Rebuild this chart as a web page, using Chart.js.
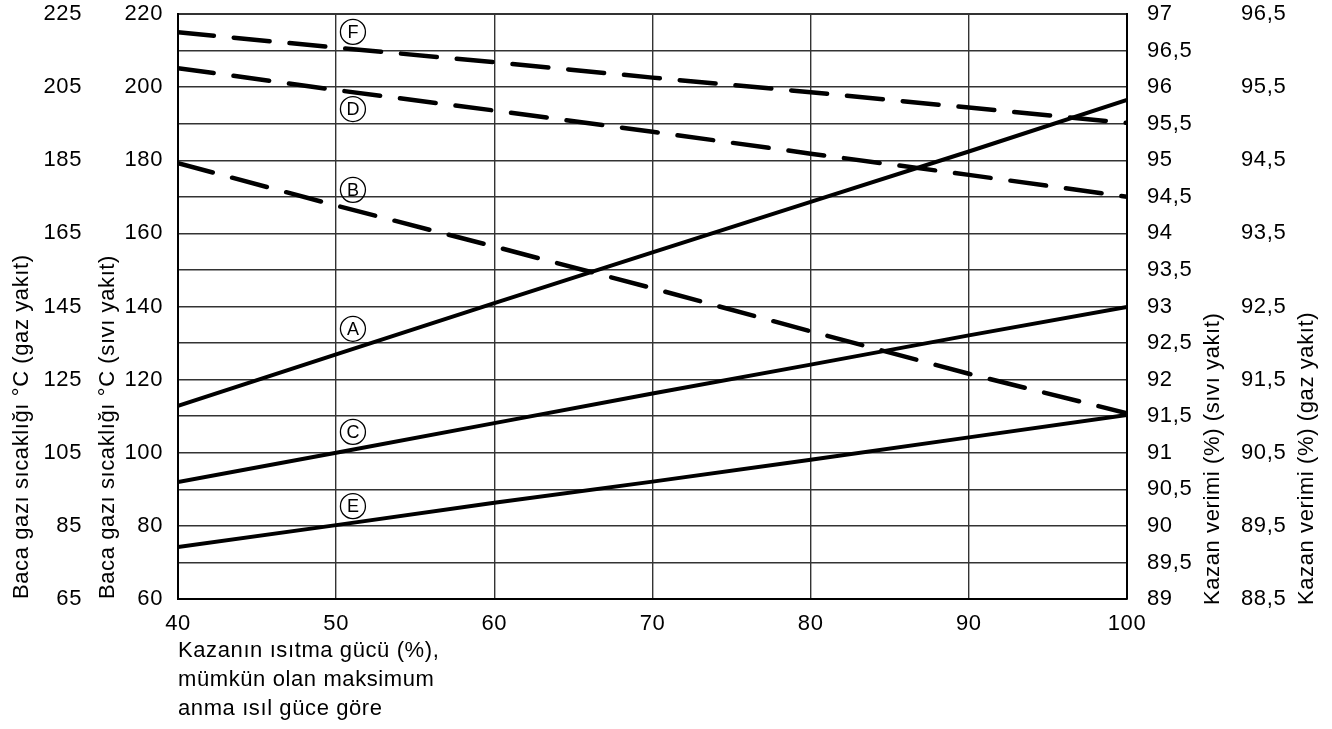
<!DOCTYPE html>
<html>
<head>
<meta charset="utf-8">
<script src="https://cdn.jsdelivr.net/npm/chart.js@4"></script>
<style>
  html, body { margin: 0; padding: 0; background: #fff; }
  canvas { display: block; }
</style>
</head>
<body>
<canvas id="c" width="1332" height="729"></canvas>
<script>
// ---- data ----
const loadPct = [40, 50, 60, 70, 80, 90, 100];               // Kazanın ısıtma gücü (%)
const flueA = [112.8, 126.9, 140.9, 154.8, 168.6, 182.4, 196.5]; // °C (sıvı yakıt scale)
const flueC = [92.0, 100.0, 108.1, 116.2, 124.1, 132.1, 139.9];
const flueE = [74.2, 80.2, 86.3, 92.1, 98.1, 104.2, 110.3];
const effB = [94.96, 94.38, 93.82, 93.25, 92.66, 92.08, 91.54];  // % (sıvı yakıt scale)
const effD = [96.26, 95.96, 95.68, 95.39, 95.09, 94.80, 94.50];
const effF = [96.75, 96.54, 96.34, 96.13, 95.93, 95.72, 95.51];

const curveNames = ['F', 'D', 'B', 'A', 'C', 'E'];
const curveNameLoad = [51.06, 51.06, 51.06, 51.06, 51.06, 51.06];
const curveNameTemp = [215.1, 194.0, 171.9, 133.9, 105.7, 85.4];

const xTitle = ['Kazanın ısıtma gücü (%),', 'mümkün olan maksimum', 'anma ısıl güce göre'];
const yGasTitle = 'Baca gazı sıcaklığı °C (gaz yakıt)';
const yOilTitle = 'Baca gazı sıcaklığı °C (sıvı yakıt)';
const yEffOilTitle = 'Kazan verimi (%) (sıvı yakıt)';
const yEffGasTitle = 'Kazan verimi (%) (gaz yakıt)';

// ---- styling ----
const FONT = 'Liberation Sans, Arial, Helvetica, sans-serif';
const tickFont = { family: FONT, size: 22, lineHeight: 1.2 };
const INK = '#000';
const GRID = '#333';

const pts = (ys) => loadPct.map((x, i) => ({ x, y: ys[i] }));
const comma = (v) => String(v).replace('.', ',');

function solid(data) {
  return { data: pts(data), yAxisID: 'yOil', borderColor: INK, borderWidth: 4,
           pointRadius: 0, tension: 0, fill: false, borderCapStyle: 'butt' };
}
function dashed(data) {
  return { data: pts(data), yAxisID: 'yEffOil', borderColor: INK, borderWidth: 4.5,
           pointRadius: 0, tension: 0, fill: false, borderDash: [36, 20],
           borderCapStyle: 'round' };
}

const fixWidth = (w) => (scale) => { scale.width = w; scale.paddingTop = 0; scale.paddingBottom = 0; };

const spacingPlugin = {
  id: 'spacing',
  beforeUpdate(chart) { chart.ctx.letterSpacing = '0.6px'; },
  beforeDraw(chart) { chart.ctx.letterSpacing = '0.6px'; }
};

const extrasPlugin = {
  id: 'extras',
  afterDraw(chart) {
    const ctx = chart.ctx;
    const xs = chart.scales.x, yt = chart.scales.yOil;
    // circled curve names
    ctx.save();
    ctx.letterSpacing = '0px';
    ctx.strokeStyle = INK;
    ctx.fillStyle = INK;
    ctx.lineWidth = 1.3;
    ctx.font = '18px ' + FONT;
    ctx.textAlign = 'center';
    ctx.textBaseline = 'middle';
    curveNames.forEach((n, i) => {
      const px = xs.getPixelForValue(curveNameLoad[i]);
      const py = yt.getPixelForValue(curveNameTemp[i]);
      ctx.beginPath();
      ctx.arc(px, py, 12.5, 0, Math.PI * 2);
      ctx.stroke();
      ctx.fillText(n, px, py + 1);
    });
    ctx.restore();
    // right-hand axis titles, reading bottom to top
    ctx.save();
    ctx.letterSpacing = '0.6px';
    ctx.fillStyle = INK;
    ctx.font = '22px ' + FONT;
    ctx.textAlign = 'left';
    ctx.textBaseline = 'middle';
    const drawTitle = (scale, text, off) => {
      ctx.save();
      ctx.translate(scale.right - off, chart.chartArea.bottom + 6);
      ctx.rotate(-Math.PI / 2);
      ctx.fillText(text, 0, 0);
      ctx.restore();
    };
    drawTitle(chart.scales.yEffOil, yEffOilTitle, 18);
    drawTitle(chart.scales.yEffGas, yEffGasTitle, 25.5);
    ctx.restore();
  }
};

new Chart(document.getElementById('c'), {
  type: 'line',
  data: {
    datasets: [
      dashed(effF), dashed(effD), dashed(effB),
      solid(flueA), solid(flueC), solid(flueE)
    ]
  },
  options: {
    responsive: false,
    devicePixelRatio: 1,
    animation: false,
    events: [],
    layout: { padding: { top: 14, left: 0, right: 0, bottom: 0 } },
    plugins: { legend: { display: false }, tooltip: { enabled: false }, title: { display: false } },
    scales: {
      x: {
        type: 'linear', position: 'bottom', min: 40, max: 100,
        ticks: { stepSize: 10, color: INK, font: tickFont, padding: 12, maxRotation: 0 },
        grid: { color: GRID, lineWidth: 1.4, drawTicks: false },
        border: { display: true, color: INK, width: 2 },
        title: { display: true, text: xTitle, align: 'start', color: INK,
                 font: { family: FONT, size: 22, lineHeight: '29px' }, padding: { top: 0, bottom: 6 } },
        afterFit: (s) => { s.height = 130; }
      },
      yOil: {
        type: 'linear', position: 'left', weight: 0, min: 60, max: 220,
        ticks: { stepSize: 20, color: INK, font: tickFont, padding: 15 },
        grid: { display: false, drawTicks: false },
        border: { display: true, color: INK, width: 2 },
        title: { display: true, text: yOilTitle, align: 'start', color: INK,
                 font: { family: FONT, size: 22, lineHeight: 1.2 }, padding: { top: 9, bottom: 0 } },
        afterFit: fixWidth(92)
      },
      yGas: {
        type: 'linear', position: 'left', weight: 1, min: 65, max: 225,
        ticks: { stepSize: 20, color: INK, font: tickFont, padding: 4 },
        grid: { display: false, drawTicks: false },
        border: { display: false },
        title: { display: true, text: yGasTitle, align: 'start', color: INK,
                 font: { family: FONT, size: 22, lineHeight: 1.2 }, padding: { top: 9, bottom: 0 } },
        afterFit: fixWidth(86)
      },
      yEffOil: {
        type: 'linear', position: 'right', weight: 0, min: 89, max: 97,
        ticks: { stepSize: 0.5, color: INK, font: tickFont, padding: 20, callback: comma },
        grid: { color: GRID, lineWidth: (c) => (c.tick && c.tick.value === 97 ? 2 : 1.4), drawTicks: false },
        border: { display: true, color: INK, width: 2 },
        afterFit: fixWidth(104)
      },
      yEffGas: {
        type: 'linear', position: 'right', weight: 1, min: 88.5, max: 96.5,
        ticks: { stepSize: 1, color: INK, font: tickFont, padding: 10, callback: comma },
        grid: { display: false, drawTicks: false },
        border: { display: false },
        afterFit: fixWidth(101)
      }
    }
  },
  plugins: [spacingPlugin, extrasPlugin]
});
</script>
</body>
</html>
